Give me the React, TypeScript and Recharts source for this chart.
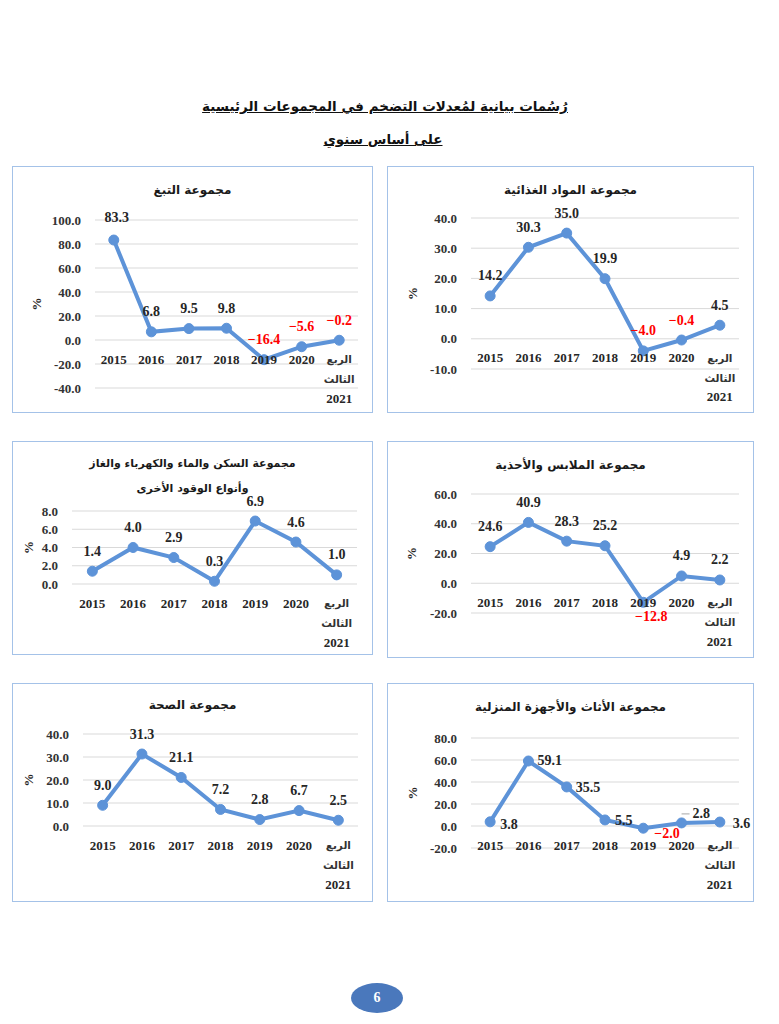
import React from 'react'
import { LineChart, Line, XAxis, YAxis, CartesianGrid, LabelList } from 'recharts'

// categories shared by all six panels
const categories = ['2015', '2016', '2017', '2018', '2019', '2020', 'الربع الثالث 2021']

// annual inflation rates (%) per main group
const tobaccoValues = [83.3, 6.8, 9.5, 9.8, -16.4, -5.6, -0.2]
const foodValues = [14.2, 30.3, 35.0, 19.9, -4.0, -0.4, 4.5]
const housingValues = [1.4, 4.0, 2.9, 0.3, 6.9, 4.6, 1.0]
const clothingValues = [24.6, 40.9, 28.3, 25.2, -12.8, 4.9, 2.2]
const healthValues = [9.0, 31.3, 21.1, 7.2, 2.8, 6.7, 2.5]
const furnitureValues = [3.8, 59.1, 35.5, 5.5, -2.0, 2.8, 3.6]

const tobaccoTicks = [-40, -20, 0, 20, 40, 60, 80, 100]
const foodTicks = [-10, 0, 10, 20, 30, 40]
const housingTicks = [0, 2, 4, 6, 8]
const clothingTicks = [-20, 0, 20, 40, 60]
const healthTicks = [0, 10, 20, 30, 40]
const furnitureTicks = [-20, 0, 20, 40, 60, 80]

const LINE = '#5D93D8'
const SERIF = '"Liberation Serif", "Times New Roman", serif'
const ARABIC = '"DejaVu Sans", sans-serif'

type Place = { dx: number; dy: number; anchor?: 'start' | 'middle' | 'end'; leader?: boolean }
const top: Place = { dx: 0, dy: -20 }

type Cfg = {
  titles: string[]
  titleY: number[]
  titleSize: number
  values: number[]
  ticks: number[]
  box: { left: number; top: number; width: number; height: number }
  plot: { left: number; right: number; top: number; bottom: number }
  pctOffset: number
  places: Place[]
}

const panels: Cfg[] = [
  {
    titles: ['مجموعة التبغ'],
    titleY: [24],
    titleSize: 12,
    values: tobaccoValues,
    ticks: tobaccoTicks,
    box: { left: 12, top: 166, width: 361, height: 247 },
    plot: { left: 95, right: 358, top: 220, bottom: 388 },
    pctOffset: 24,
    places: [{ dx: 3, dy: -23 }, top, top, top, top, top, top],
  },
  {
    titles: ['مجموعة المواد الغذائية'],
    titleY: [24],
    titleSize: 12,
    values: foodValues,
    ticks: foodTicks,
    box: { left: 387, top: 166, width: 367, height: 247 },
    plot: { left: 471, right: 739, top: 218, bottom: 369 },
    pctOffset: 25,
    places: [top, top, top, top, top, top, top],
  },
  {
    titles: ['مجموعة السكن والماء والكهرباء والغاز', 'وأنواع الوقود الأخرى'],
    titleY: [23, 48],
    titleSize: 11,
    values: housingValues,
    ticks: housingTicks,
    box: { left: 12, top: 441, width: 361, height: 214 },
    plot: { left: 72, right: 357, top: 511, bottom: 584 },
    pctOffset: 16,
    places: [top, top, top, top, top, top, top],
  },
  {
    titles: ['مجموعة الملابس والأحذية'],
    titleY: [24],
    titleSize: 12,
    values: clothingValues,
    ticks: clothingTicks,
    box: { left: 387, top: 441, width: 367, height: 217 },
    plot: { left: 471, right: 739, top: 494, bottom: 613 },
    pctOffset: 24,
    places: [top, top, top, top, { dx: 8, dy: 14 }, top, top],
  },
  {
    titles: ['مجموعة الصحة'],
    titleY: [22],
    titleSize: 12,
    values: healthValues,
    ticks: healthTicks,
    box: { left: 12, top: 683, width: 361, height: 219 },
    plot: { left: 83, right: 358, top: 734, bottom: 826 },
    pctOffset: 16,
    places: [top, top, top, top, top, top, top],
  },
  {
    titles: ['مجموعة الأثاث والأجهزة المنزلية'],
    titleY: [24],
    titleSize: 12,
    values: furnitureValues,
    ticks: furnitureTicks,
    box: { left: 387, top: 683, width: 367, height: 219 },
    plot: { left: 471, right: 739, top: 738, bottom: 848 },
    pctOffset: 25,
    places: [
      { dx: 10, dy: 3, anchor: 'start' },
      { dx: 9, dy: 0, anchor: 'start' },
      { dx: 9, dy: 1, anchor: 'start' },
      { dx: 10, dy: 1, anchor: 'start' },
      { dx: 11, dy: 5, anchor: 'start' },
      { dx: 11, dy: -9, anchor: 'start', leader: true },
      { dx: 13, dy: 1, anchor: 'start' },
    ],
  },
]

const fmtLabel = (v: number) => (v < 0 ? '\u2212' + Math.abs(v).toFixed(1) : v.toFixed(1))

function Panel({ cfg }: { cfg: Cfg }) {
  const { box, plot, ticks } = cfg
  const data = categories.map((c, i) => ({ category: c, value: cfg.values[i] }))
  const min = ticks[0]
  const max = ticks[ticks.length - 1]
  const zeroShift = ((plot.bottom - plot.top) * (0 - min)) / (max - min)
  // half a category band on each side, like a category axis between tick marks
  const halfBand = (plot.right - plot.left) / categories.length / 2

  const renderTick = (props: any) => {
    const { x, y, payload } = props
    const zeroY = y - zeroShift
    const parts = String(payload.value).split(' ')
    if (parts.length === 1) {
      return (
        <text x={x} y={zeroY + 19} textAnchor="middle" dominantBaseline="central"
          fontFamily={SERIF} fontWeight="bold" fontSize={13} fill="#262626">
          {payload.value}
        </text>
      )
    }
    return (
      <g>
        <text x={x} y={zeroY + 19} textAnchor="middle" dominantBaseline="central" direction="rtl"
          fontFamily={ARABIC} fontWeight="bold" fontSize={10.5} fill="#333">{parts[0]}</text>
        <text x={x} y={zeroY + 39} textAnchor="middle" dominantBaseline="central" direction="rtl"
          fontFamily={ARABIC} fontWeight="bold" fontSize={10.5} fill="#333">{parts[1]}</text>
        <text x={x} y={zeroY + 58} textAnchor="middle" dominantBaseline="central"
          fontFamily={SERIF} fontWeight="bold" fontSize={13} fill="#262626">{parts[2]}</text>
      </g>
    )
  }

  const renderLabel = (props: any) => {
    const { x, y, value, index } = props
    const p = cfg.places[index] || top
    const neg = value < 0
    return (
      <g>
        {p.leader && (
          <line x1={x} y1={y + p.dy} x2={x + p.dx - 3} y2={y + p.dy} stroke="#A6A6A6" strokeWidth={1} />
        )}
        <text x={x + p.dx} y={y + p.dy} textAnchor={p.anchor || 'middle'} dominantBaseline="central"
          fontFamily={SERIF} fontWeight="bold" fontSize={14} fill={neg ? '#FF0000' : '#262626'}>
          {fmtLabel(value)}
        </text>
      </g>
    )
  }

  return (
    <div style={{ position: 'absolute', left: box.left, top: box.top, width: box.width, height: box.height }}>
      <div style={{ position: 'absolute', inset: 0, border: '1.5px solid #A4C2E8', boxSizing: 'border-box' }} />
      {cfg.titles.map((t, i) => (
        <div key={i} dir="rtl" style={{
          position: 'absolute', left: 0, width: box.width, top: cfg.titleY[i] - 10, height: 20, lineHeight: '20px',
          textAlign: 'center', fontFamily: ARABIC, fontWeight: 'bold', fontSize: cfg.titleSize, color: '#1a1a1a',
        }}>{t}</div>
      ))}
      <div style={{ position: 'absolute', left: 0, top: 0 }}>
        <LineChart
          width={box.width}
          height={box.height}
          data={data}
          margin={{ top: plot.top - box.top, right: box.left + box.width - plot.right, bottom: 0, left: 0 }}
        >
          <CartesianGrid vertical={false} stroke="#D9D9D9" />
          <XAxis
            dataKey="category"
            height={box.top + box.height - plot.bottom}
            padding={{ left: halfBand, right: halfBand }}
            axisLine={false}
            tickLine={false}
            tickSize={0}
            tickMargin={0}
            interval={0}
            tick={renderTick}
          />
          <YAxis
            width={plot.left - box.left}
            domain={[min, max]}
            ticks={ticks}
            interval={0}
            axisLine={false}
            tickLine={false}
            tickSize={0}
            tickMargin={14}
            tickFormatter={(v: number) => v.toFixed(1)}
            tick={{ fontFamily: SERIF, fontWeight: 'bold', fontSize: 13, fill: '#333' }}
            label={{ value: '%', angle: -90, position: 'insideLeft', offset: cfg.pctOffset,
              style: { fontFamily: SERIF, fontWeight: 'bold', fontSize: 13, fill: '#262626', textAnchor: 'middle' } }}
          />
          <Line
            type="linear"
            dataKey="value"
            stroke={LINE}
            strokeWidth={4}
            dot={{ r: 5, fill: LINE, stroke: LINE, strokeWidth: 1 }}
            activeDot={false}
            isAnimationActive={false}
          >
            <LabelList dataKey="value" content={renderLabel} />
          </Line>
        </LineChart>
      </div>
    </div>
  )
}

export default function App() {
  return (
    <div style={{ position: 'absolute', left: 0, top: 0, width: 779, height: 1024, background: '#fff', overflow: 'hidden' }}>
      <div dir="rtl" style={{
        position: 'absolute', left: 0, width: 770, top: 95, height: 22, lineHeight: '22px', textAlign: 'center',
        fontFamily: ARABIC, fontWeight: 'bold', fontSize: 13.5, color: '#111', textDecoration: 'underline',
      }}>رُسُمات بيانية لمُعدلات التضخم في المجموعات الرئيسية</div>
      <div dir="rtl" style={{
        position: 'absolute', left: 0, width: 766, top: 128, height: 22, lineHeight: '22px', textAlign: 'center',
        fontFamily: ARABIC, fontWeight: 'bold', fontSize: 13.5, color: '#111', textDecoration: 'underline',
      }}>على أساس سنوي</div>
      {panels.map((p, i) => <Panel key={i} cfg={p} />)}
      <div style={{
        position: 'absolute', left: 351, top: 983, width: 52, height: 30, borderRadius: '50%', background: '#4A78BC',
        color: '#fff', fontFamily: SERIF, fontWeight: 'bold', fontSize: 14, textAlign: 'center', lineHeight: '30px',
      }}>6</div>
    </div>
  )
}
